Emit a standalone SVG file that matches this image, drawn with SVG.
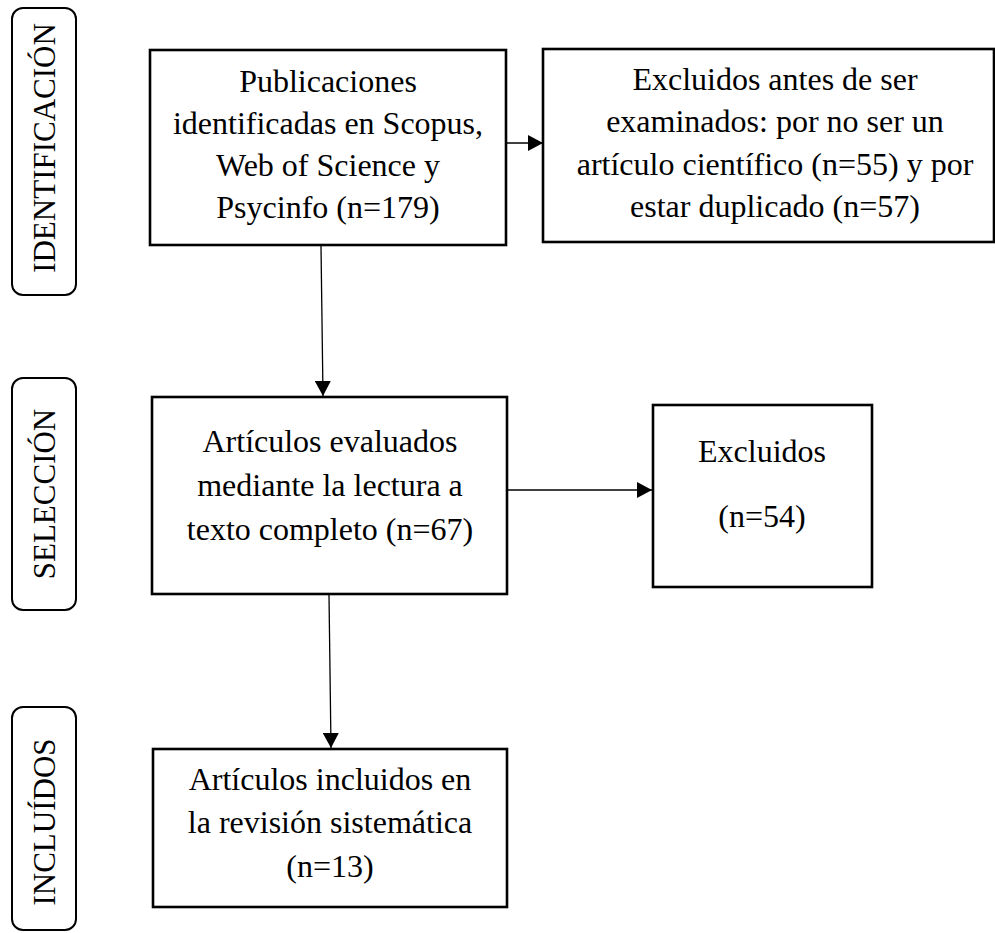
<svg xmlns="http://www.w3.org/2000/svg" width="995" height="933" viewBox="0 0 995 933">
<style>
.box{fill:#fff;stroke:#000;stroke-width:2.6}
.side{fill:#fff;stroke:#000;stroke-width:2;}
.t{font-family:"Liberation Serif","Times New Roman",serif;font-size:32px;fill:#000;text-anchor:middle}
.s{font-family:"Liberation Serif","Times New Roman",serif;font-size:31px;fill:#000;text-anchor:middle}
.c{stroke:#000;stroke-width:1.3;fill:none}
</style>
<defs>
<marker id="ah" markerUnits="userSpaceOnUse" markerWidth="16" markerHeight="16" viewBox="0 0 15 16" refX="15" refY="8" orient="auto">
<path d="M0,0 L15,8 L0,16 Z" fill="#000"/>
</marker>
</defs>
<rect width="995" height="933" fill="#fff"/>
<g id="stage-identificacion">
<rect class="side" x="12" y="8" width="64" height="287" rx="11"/>
<text class="s" transform="translate(55,148) rotate(-90)" font-size="29.5">IDENTIFICACIÓN</text>
</g>
<g id="stage-seleccion">
<rect class="side" x="12" y="378" width="64" height="232" rx="11"/>
<text class="s" transform="translate(55,494) rotate(-90)">SELECCIÓN</text>
</g>
<g id="stage-incluidos">
<rect class="side" x="12" y="707" width="64" height="223" rx="11"/>
<text class="s" transform="translate(55,822) rotate(-90)">INCLUÍDOS</text>
</g>
<g id="connectors">
<line class="c" x1="506" y1="143" x2="543" y2="143" marker-end="url(#ah)"/>
<line class="c" x1="321" y1="246" x2="323" y2="396" marker-end="url(#ah)"/>
<line class="c" x1="507" y1="490" x2="652" y2="490" marker-end="url(#ah)"/>
<line class="c" x1="329" y1="595" x2="331" y2="748" marker-end="url(#ah)"/>
</g>
<g id="n-publicaciones">
<rect class="box" x="150" y="50" width="356" height="195"/>
<text class="t" x="328" y="92">Publicaciones</text>
<text class="t" x="328" y="134">identificadas en Scopus,</text>
<text class="t" x="328" y="176">Web of Science y</text>
<text class="t" x="328" y="218">Psycinfo (n=179)</text>
</g>
<g id="n-excluidos-antes">
<rect class="box" x="543" y="49" width="451" height="193"/>
<text class="t" x="775" y="90">Excluidos antes de ser</text>
<text class="t" x="775" y="132">examinados: por no ser un</text>
<text class="t" x="775" y="175">artículo científico (n=55) y por</text>
<text class="t" x="775" y="217">estar duplicado (n=57)</text>
</g>
<g id="n-evaluados">
<rect class="box" x="152" y="397" width="355" height="197"/>
<text class="t" x="330" y="452">Artículos evaluados</text>
<text class="t" x="330" y="496">mediante la lectura a</text>
<text class="t" x="330" y="540">texto completo (n=67)</text>
</g>
<g id="n-excluidos">
<rect class="box" x="653" y="405" width="219" height="182"/>
<text class="t" x="762" y="462">Excluidos</text>
<text class="t" x="762" y="527">(n=54)</text>
</g>
<g id="n-incluidos">
<rect class="box" x="153" y="749" width="354" height="158"/>
<text class="t" x="330" y="790">Artículos incluidos en</text>
<text class="t" x="330" y="833">la revisión sistemática</text>
<text class="t" x="330" y="877">(n=13)</text>
</g>
</svg>
